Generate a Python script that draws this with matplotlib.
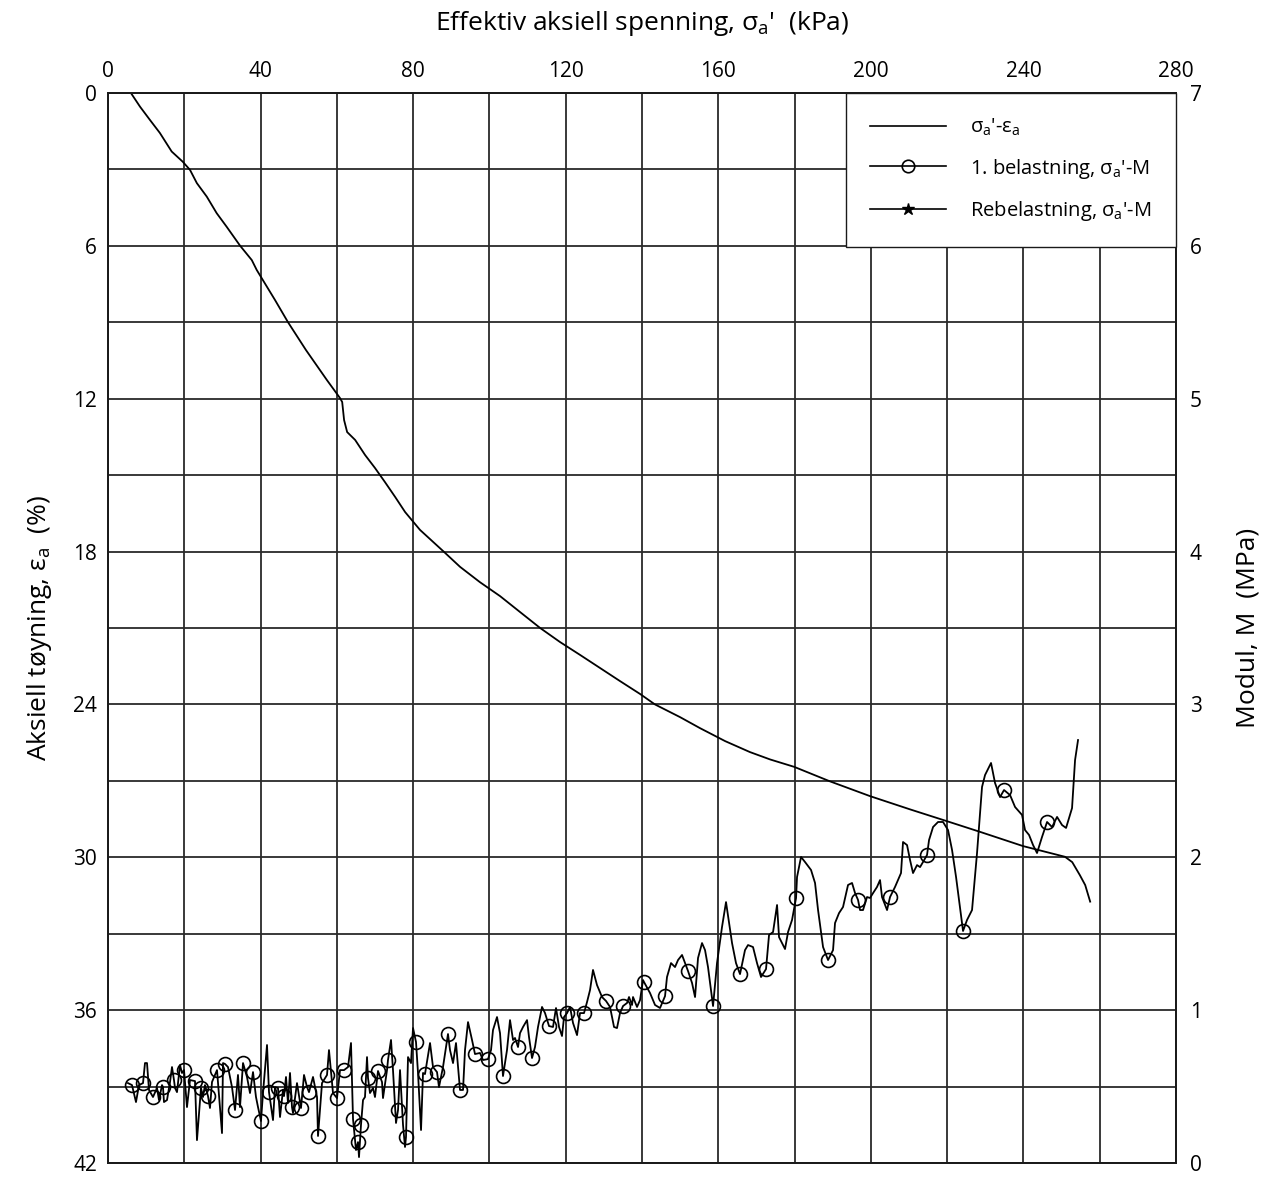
import matplotlib
matplotlib.use("Agg")
import matplotlib.pyplot as plt
from matplotlib.lines import Line2D

plt.rcParams['font.family'] = ['Open Sans', 'DejaVu Sans']
plt.rcParams['mathtext.fontset'] = 'custom'
plt.rcParams['mathtext.rm'] = 'Open Sans'
plt.rcParams['mathtext.it'] = 'Open Sans'

# Stress-strain curve: effective axial stress (kPa) vs axial strain (%)
strain_stress = [6.0, 8.4, 11.0, 13.6, 16.7, 19.6, 21.5, 23.3, 25.9, 28.5, 31.1, 34.6,
                 37.7, 39.0, 43.8, 47.2, 51.9, 57.4, 60.8, 61.4, 61.9, 62.7, 64.8,
                 67.4, 70.0, 72.6, 75.3, 77.9, 81.8, 88.0, 92.3, 97.5, 102.8, 108.0,
                 113.3, 118.5, 123.8, 129.0, 134.2, 139.5, 143.4, 150.0, 155.2, 161.8,
                 168.3, 173.6, 179.9, 189.3, 199.8, 210.3, 219.9, 228.6, 239.9, 250.9,
                 252.8, 254.8, 256.2, 257.5]
strain_pct = [0.0, 0.54, 1.06, 1.57, 2.30, 2.70, 3.02, 3.54, 4.07, 4.72, 5.25, 5.99,
              6.56, 6.95, 8.13, 9.0, 10.09, 11.27, 11.97, 12.13, 12.84, 13.31, 13.62,
              14.21, 14.72, 15.27, 15.86, 16.45, 17.15, 18.0, 18.6, 19.2, 19.75, 20.37,
              21.0, 21.55, 22.06, 22.57, 23.08, 23.59, 24.0, 24.5, 24.93, 25.44,
              25.87, 26.16, 26.45, 27.02, 27.60, 28.12, 28.58, 29.0, 29.56, 29.98,
              30.19, 30.70, 31.09, 31.74]

# Constrained modulus M (MPa) during first loading vs effective axial stress (kPa)
mod_stress = [5.24, 6.29, 7.34, 8.13, 9.18, 9.70, 10.23, 10.75, 11.80, 12.85, 13.37,
              14.16, 14.42, 14.68, 15.47, 16.26, 16.78, 17.30, 17.57, 18.09, 18.88,
              19.40, 19.93, 20.71, 21.50, 22.81, 23.33, 24.38, 24.91, 25.43, 26.22,
              26.74, 27.27, 28.58, 29.89, 30.15, 30.68, 31.46, 32.51, 33.30, 34.08,
              34.61, 35.40, 36.44, 37.23, 38.02, 38.80, 39.33, 40.11, 40.64, 41.69,
              42.21, 43.26, 43.79, 44.57, 45.10, 45.88, 46.15, 46.67, 47.19, 47.72,
              48.24, 48.51, 49.55, 50.60, 51.39, 52.18, 52.70, 53.75, 54.80, 55.06,
              56.11, 57.42, 57.94, 58.99, 60.04, 60.83, 61.88, 62.93, 63.71, 64.24,
              65.02, 65.55, 65.81, 66.33, 66.86, 67.38, 67.91, 68.17, 68.69, 69.48,
              70.00, 70.79, 71.84, 72.10, 73.15, 73.41, 74.20, 74.72, 75.51, 76.04,
              76.56, 77.35, 77.87, 78.13, 78.66, 79.44, 79.97, 80.75, 81.28, 82.07,
              82.59, 83.11, 84.43, 85.21, 86.26, 86.78, 87.83, 89.14, 89.67, 90.46,
              91.24, 92.29, 93.08, 93.60, 94.39, 95.44, 96.22, 97.53, 98.32, 99.63,
              100.42, 100.94, 101.99, 102.78, 103.56, 104.61, 105.40, 106.19, 106.71,
              107.50, 108.02, 108.81, 109.86, 110.38, 111.17, 111.95, 112.74, 113.79,
              114.58, 115.63, 116.67, 117.46, 118.25, 119.03, 119.56, 120.35, 121.13,
              121.92, 122.97, 123.75, 124.80, 125.59, 126.38, 127.16, 128.21, 129.52,
              130.57, 131.62, 132.67, 133.45, 134.24, 135.03, 136.08, 136.60, 137.39,
              137.65, 138.70, 139.49, 140.27, 140.53, 142.11, 143.42, 144.73, 146.04,
              146.56, 147.61, 148.66, 149.45, 150.50, 151.28, 152.07, 153.12, 153.91,
              154.69, 155.74, 156.53, 157.31, 158.63, 159.67, 160.98, 162.03, 163.61,
              164.65, 165.70, 167.01, 167.80, 169.11, 170.16, 171.21, 172.52, 173.31,
              174.36, 175.41, 175.93, 177.50, 178.29, 179.34, 180.39, 180.65, 181.70,
              182.75, 184.32, 185.37, 186.16, 187.47, 188.78, 190.09, 190.61, 191.66,
              192.71, 194.02, 195.07, 195.86, 196.64, 197.17, 197.95, 199.00, 199.79,
              200.58, 201.62, 202.41, 202.93, 204.25, 205.03, 206.34, 207.91, 208.44,
              209.49, 210.28, 211.06, 212.11, 212.90, 213.68, 214.73, 215.26, 216.31,
              217.62, 218.93, 220.24, 221.29, 222.34, 223.12, 224.17, 225.22, 226.53,
              227.84, 229.15, 229.94, 231.51, 232.56, 233.87, 234.92, 236.50, 237.81,
              239.64, 240.43, 241.48, 242.53, 243.57, 244.88, 246.20, 247.51, 248.82,
              250.13, 251.18, 252.75, 253.54, 254.32]
mod_mpa = [0.523, 0.510, 0.399, 0.510, 0.523, 0.654, 0.654, 0.478, 0.432, 0.491, 0.412,
           0.510, 0.497, 0.399, 0.412, 0.530, 0.628, 0.543, 0.491, 0.464, 0.641,
           0.589, 0.608, 0.366, 0.543, 0.536, 0.150, 0.491, 0.432, 0.510, 0.438,
           0.360, 0.530, 0.608, 0.196, 0.654, 0.648, 0.628, 0.497, 0.347, 0.576,
           0.366, 0.654, 0.563, 0.458, 0.595, 0.432, 0.366, 0.275, 0.458, 0.772,
           0.464, 0.281, 0.497, 0.491, 0.301, 0.478, 0.438, 0.563, 0.393, 0.589,
           0.366, 0.327, 0.523, 0.360, 0.576, 0.497, 0.464, 0.563, 0.432, 0.177,
           0.523, 0.576, 0.739, 0.458, 0.425, 0.608, 0.608, 0.628, 0.785, 0.288,
           0.085, 0.137, 0.039, 0.249, 0.412, 0.432, 0.693, 0.556, 0.458, 0.491,
           0.432, 0.602, 0.530, 0.425, 0.608, 0.674, 0.805, 0.608, 0.262, 0.347,
           0.608, 0.249, 0.105, 0.170, 0.693, 0.654, 0.883, 0.792, 0.589, 0.216,
           0.589, 0.582, 0.785, 0.628, 0.595, 0.497, 0.628, 0.844, 0.739, 0.654,
           0.785, 0.478, 0.478, 0.739, 0.922, 0.805, 0.713, 0.720, 0.674, 0.680,
           0.739, 0.870, 0.955, 0.850, 0.569, 0.739, 0.935, 0.805, 0.818,
           0.759, 0.850, 0.890, 0.935, 0.824, 0.687, 0.759, 0.890, 1.021,
           0.981, 0.896, 0.890, 1.014, 0.890, 0.831, 0.955, 0.981, 1.021,
           0.916, 0.837, 0.981, 0.981, 1.053, 1.132, 1.263, 1.164, 1.086,
           1.060, 1.021, 0.890, 0.883, 0.981, 1.027, 1.047, 1.086, 1.034,
           1.086, 1.021, 1.066, 1.197, 1.184, 1.112, 1.034, 1.014, 1.092,
           1.217, 1.308, 1.282, 1.328, 1.361, 1.308, 1.256, 1.178, 1.086,
           1.341, 1.439, 1.393, 1.282, 1.027, 1.308, 1.544, 1.707, 1.439,
           1.308, 1.236, 1.393, 1.426, 1.413, 1.308, 1.217, 1.269, 1.492,
           1.511, 1.688, 1.478, 1.400, 1.511, 1.590, 1.734, 1.871, 2.002,
           1.969, 1.917, 1.832, 1.655, 1.413, 1.328, 1.393, 1.570, 1.635,
           1.675, 1.819, 1.832, 1.766, 1.721, 1.655, 1.655, 1.740, 1.734,
           1.766, 1.806, 1.851, 1.740, 1.655, 1.740, 1.806, 1.897, 2.100,
           2.080, 1.982, 1.897, 1.949, 1.936, 1.969, 2.015, 2.113, 2.198,
           2.231, 2.231, 2.178, 2.048, 1.871, 1.721, 1.518, 1.590, 1.655,
           2.028, 2.460, 2.538, 2.617, 2.486, 2.394, 2.440, 2.407, 2.329,
           2.277, 2.178, 2.146, 2.080, 2.028, 2.133, 2.231, 2.198, 2.264,
           2.211, 2.192, 2.322, 2.636, 2.767]
# Readings shown with an open circle
mod_marked = [1, 4, 8, 12, 17, 22, 25, 27, 30, 33, 36, 39, 42, 45, 48, 51, 54, 57, 61,
              64, 67, 70, 72, 75, 77, 80, 82, 84, 88, 92, 96, 100, 104, 108, 112, 115,
              118, 122, 127, 130, 135, 140, 145, 150, 156, 161, 167, 172, 180, 184,
              191, 198, 204, 210, 218, 226, 234, 244, 254, 263, 272, 281]

# Reloading branch (no readings in this test)
reload_stress = []
reload_mpa = []

x_ticks = [0, 40, 80, 120, 160, 200, 240, 280]
strain_ticks = [0, 6, 12, 18, 24, 30, 36, 42]
mod_ticks = [0, 1, 2, 3, 4, 5, 6, 7]

fig = plt.figure(figsize=(12.69, 11.78), dpi=100)
ax = fig.add_axes([0.0851, 0.0127, 0.8416, 0.9084])
ax2 = ax.twinx()

grid_col = '#2a2a2a'
ax.set_xlim(0, 280)
ax.set_ylim(42, 0)
ax2.set_ylim(0, 7)

ax.xaxis.tick_top()
ax.xaxis.set_label_position('top')
ax.set_xticks(x_ticks)
ax.set_xticks(range(0, 281, 20), minor=True)
ax.set_yticks(strain_ticks)
ax.set_yticks(range(0, 43, 3), minor=True)
ax2.set_yticks(mod_ticks)

ax.grid(True, which='both', color=grid_col, lw=1.3)
ax.set_axisbelow(True)
ax.tick_params(which='both', length=0, labelsize=15, pad=8)
ax2.tick_params(which='both', length=0, labelsize=15, pad=10)
for sp in list(ax.spines.values()) + list(ax2.spines.values()):
    sp.set_color('#1a1a1a')
    sp.set_linewidth(1.3)

ax.set_xlabel("Effektiv aksiell spenning, σ$_{\\mathrm{a}}$'  (kPa)", fontsize=19, labelpad=22)
ax.set_ylabel("Aksiell tøyning, ε$_{\\mathrm{a}}$  (%)", fontsize=19, labelpad=14)
ax2.set_ylabel("Modul, M  (MPa)", fontsize=19, labelpad=24)

ax.plot(strain_stress, strain_pct, color='black', lw=1.3)
ax2.plot(mod_stress, mod_mpa, color='black', lw=1.3,
         marker='o', markevery=mod_marked, markersize=10,
         markerfacecolor='none', markeredgecolor='black', markeredgewidth=1.2)
ax2.plot(reload_stress, reload_mpa, color='black', lw=1.3, marker='*', markersize=8)

handles = [
    Line2D([], [], color='black', lw=1.2),
    Line2D([], [], color='black', lw=1.2, marker='o', markersize=9,
           markerfacecolor='none', markeredgewidth=1.2),
    Line2D([], [], color='black', lw=1.2, marker='*', markersize=9),
]
labels = ["σ$_{\\mathrm{a}}$'-ε$_{\\mathrm{a}}$",
          "1. belastning, σ$_{\\mathrm{a}}$'-M",
          "Rebelastning, σ$_{\\mathrm{a}}$'-M"]
leg = ax2.legend(handles, labels, loc='upper right', borderaxespad=0, fontsize=14.5,
                 frameon=True, fancybox=False, edgecolor='#1a1a1a', framealpha=1,
                 handlelength=3.8, handletextpad=1.2, labelspacing=0.9,
                 borderpad=1.2)
leg.get_frame().set_linewidth(1.0)
leg.set_zorder(10)

fig.savefig('out.png', dpi=100)
